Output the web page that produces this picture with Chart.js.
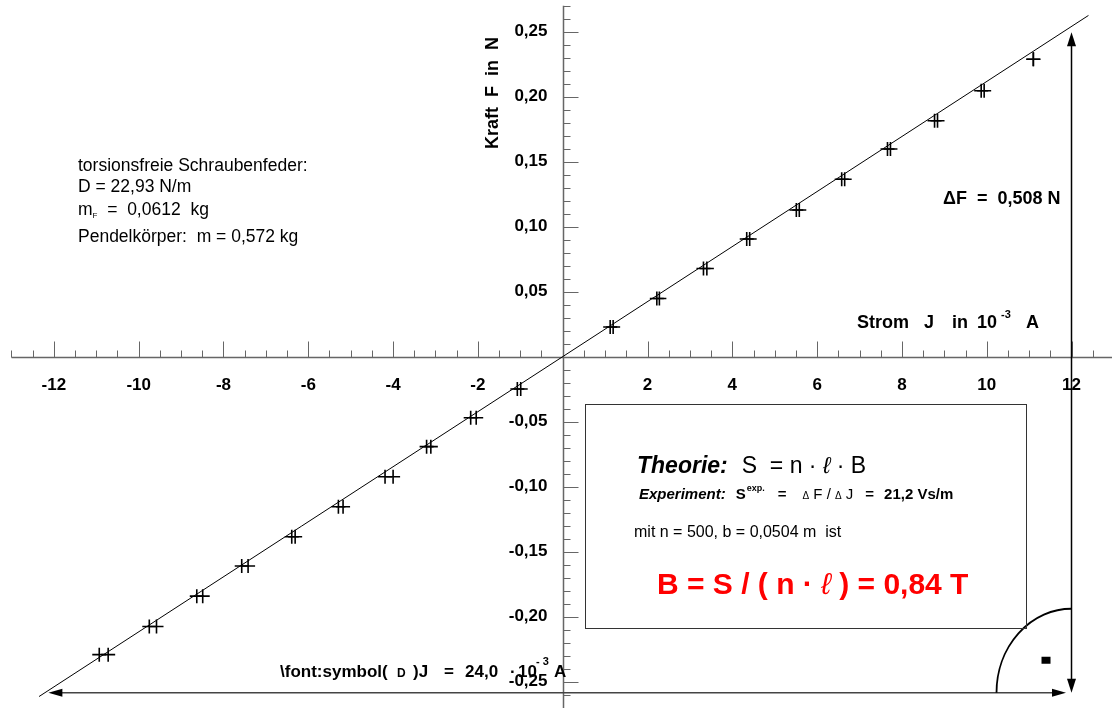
<!DOCTYPE html>
<html>
<head>
<meta charset="utf-8">
<script src="https://cdn.jsdelivr.net/npm/chart.js@4"></script>
<style>
  html, body { margin: 0; padding: 0; background: #fff; }
  canvas { display: block; }
</style>
</head>
<body>
<canvas id="kraftChart" width="1112" height="708"></canvas>
<script>
// Strom J in mA, two readings per step (A / B), Kraft F in N
const jPosA = [1.12, 2.22, 3.32, 4.34, 5.51, 6.58, 7.66, 8.77, 9.87, 11.10];
const jPosB = [1.19, 2.28, 3.40, 4.41, 5.58, 6.65, 7.73, 8.84, 9.94, 11.10];
const fPos  = [0.0228, 0.0448, 0.0679, 0.0905, 0.1128, 0.1365, 0.1598, 0.1815, 0.2046, 0.2288];

const jNegA = [-1.07, -2.17, -3.21, -4.19, -5.29, -6.39, -7.57, -8.63, -9.75, -10.93];
const jNegB = [-0.99, -2.04, -3.11, -4.00, -5.18, -6.31, -7.42, -8.49, -9.58, -10.72];
const fNeg  = [-0.0248, -0.0470, -0.0692, -0.0923, -0.1154, -0.1385, -0.1610, -0.1842, -0.2075, -0.2292];

// fitted straight line through the origin
const fitJ = [-12.35, 12.4];
const fitF = [-0.2614, 0.2625];

// slope triangle
const deltaF = 0.508;      // N
const deltaJ = 24.0;       // mA
const triBaseF = -0.2585;  // bottom edge of the triangle
const triStartJ = -12.13;  // left end of the Delta J arrow

// axis ticks
const xTicks = [-12, -10, -8, -6, -4, -2, 2, 4, 6, 8, 10, 12];
const xTickLabels = ['-12', '-10', '-8', '-6', '-4', '-2', '2', '4', '6', '8', '10', '12'];
const yTicks = [0.25, 0.20, 0.15, 0.10, 0.05, -0.05, -0.10, -0.15, -0.20, -0.25];
const yTickLabels = ['0,25', '0,20', '0,15', '0,10', '0,05', '-0,05', '-0,10', '-0,15', '-0,20', '-0,25'];

const FONT = '"Liberation Sans", Arial, sans-serif';

function pts(xs, ys) {
  return xs.map((x, i) => ({ x: x, y: ys[i] }));
}

function crossSet(data) {
  return {
    data: data,
    pointStyle: 'cross',
    pointRadius: 7,
    pointBorderWidth: 1.6,
    borderColor: '#000',
    showLine: false
  };
}

// draws a row of text pieces left to right: [text, font, dx, dy]
function textRun(ctx, x, y, pieces) {
  ctx.textAlign = 'left';
  ctx.textBaseline = 'alphabetic';
  pieces.forEach(p => {
    ctx.font = p[1];
    x += p[2] || 0;
    ctx.fillText(p[0], x, y + (p[3] || 0));
    x += ctx.measureText(p[0]).width;
  });
}

// same, but every piece has its own x: [text, font, x, dy]
function textAt(ctx, y, pieces) {
  ctx.textAlign = 'left';
  ctx.textBaseline = 'alphabetic';
  pieces.forEach(p => {
    ctx.font = p[1];
    ctx.fillText(p[0], p[2], y + (p[3] || 0));
  });
}

function arrowHead(ctx, tx, ty, dx, dy, len, half) {
  const nx = -dy, ny = dx;
  ctx.beginPath();
  ctx.moveTo(tx, ty);
  ctx.lineTo(tx - dx * len + nx * half, ty - dy * len + ny * half);
  ctx.lineTo(tx - dx * len - nx * half, ty - dy * len - ny * half);
  ctx.closePath();
  ctx.fill();
}

const axesPlugin = {
  id: 'axes',
  beforeDatasetsDraw(chart) {
    const ctx = chart.ctx;
    const xs = chart.scales.x, ys = chart.scales.y;
    const ox = Math.round(xs.getPixelForValue(0)) + 0.5;
    const oy = Math.round(ys.getPixelForValue(0)) + 0.5;
    ctx.save();
    ctx.strokeStyle = '#666';
    ctx.lineWidth = 1.5;
    ctx.beginPath();
    ctx.moveTo(xs.getPixelForValue(-13), oy);
    ctx.lineTo(chart.width, oy);
    ctx.moveTo(ox, ys.getPixelForValue(0.27));
    ctx.lineTo(ox, chart.height);
    ctx.stroke();

    ctx.lineWidth = 1;
    ctx.beginPath();
    for (let k = -26; k <= 26; k++) {
      const v = k / 2;
      if (v === 0) continue;
      const px = Math.round(xs.getPixelForValue(v)) + 0.5;
      const len = (k % 4 === 0) ? 16 : 7;
      ctx.moveTo(px, oy);
      ctx.lineTo(px, oy - len);
    }
    for (let k = -27; k <= 27; k++) {
      if (k === 0) continue;
      const py = Math.round(ys.getPixelForValue(k / 100)) + 0.5;
      const len = (k % 5 === 0) ? 15 : 7;
      ctx.moveTo(ox, py);
      ctx.lineTo(ox + len, py);
    }
    ctx.stroke();

    ctx.fillStyle = '#000';
    ctx.font = 'bold 17px ' + FONT;
    ctx.textAlign = 'center';
    ctx.textBaseline = 'middle';
    xTicks.forEach((v, i) => ctx.fillText(xTickLabels[i], xs.getPixelForValue(v), oy + 28));
    ctx.textAlign = 'right';
    yTicks.forEach((v, i) => ctx.fillText(yTickLabels[i], ox - 16, ys.getPixelForValue(v)));
    ctx.restore();
  },
  afterDraw(chart) {
    const ctx = chart.ctx;
    const xs = chart.scales.x, ys = chart.scales.y;
    ctx.save();
    ctx.fillStyle = '#000';
    ctx.strokeStyle = '#000';

    const b18 = 'bold 18px ' + FONT;
    const b17 = 'bold 17px ' + FONT;
    const sup = 'bold 11px ' + FONT;

    // axis titles
    ctx.save();
    ctx.translate(493, 93);
    ctx.rotate(-Math.PI / 2);
    ctx.font = b18;
    ctx.textAlign = 'center';
    ctx.textBaseline = 'middle';
    ctx.fillText('Kraft  F  in  N', 0, 0);
    ctx.restore();

    textAt(ctx, 328, [
      ['Strom', b18, 857],
      ['J', b18, 924],
      ['in', b18, 952],
      ['10', b18, 977],
      ['-3', sup, 1001, -10],
      ['A', b18, 1026]
    ]);

    // slope triangle
    const xR = xs.getPixelForValue(triStartJ + deltaJ);
    const xL = xs.getPixelForValue(triStartJ);
    const xV = xs.getPixelForValue(12);
    const yB = ys.getPixelForValue(triBaseF);
    const yT = ys.getPixelForValue(triBaseF + deltaF);

    ctx.lineWidth = 1.5;
    ctx.strokeStyle = '#000';
    ctx.beginPath();
    ctx.moveTo(xV, yT + 4);
    ctx.lineTo(xV, yB - 4);
    ctx.stroke();
    arrowHead(ctx, xV, yT, 0, -1, 14, 4.5);
    arrowHead(ctx, xV, yB, 0, 1, 14, 4.5);

    ctx.strokeStyle = '#444';
    ctx.beginPath();
    ctx.moveTo(xL + 4, yB);
    ctx.lineTo(xR - 4, yB);
    ctx.stroke();
    ctx.fillStyle = '#000';
    arrowHead(ctx, xL, yB, -1, 0, 14, 4);
    arrowHead(ctx, xR, yB, 1, 0, 14, 4);

    // right-angle mark
    ctx.strokeStyle = '#000';
    ctx.lineWidth = 1.8;
    ctx.beginPath();
    ctx.ellipse(xV, yB, 75, 84, 0, Math.PI, Math.PI * 1.5);
    ctx.stroke();
    ctx.fillRect(xV - 30, yB - 36, 9, 7);

    ctx.font = b18;
    ctx.textAlign = 'left';
    ctx.textBaseline = 'middle';
    ctx.fillText('\u0394F  =  0,508 N', 943, 199);

    textAt(ctx, 677, [
      ['\\font:symbol(', b17, 280],
      ['D', 'bold 12px ' + FONT, 397],
      [')J', b17, 413],
      ['=', b17, 444],
      ['24,0', b17, 465],
      ['\u00b7', b17, 510],
      ['10', b17, 518],
      ['- 3', sup, 536, -12],
      ['A', b17, 554]
    ]);

    // spring and pendulum data
    const n17 = '17.5px ' + FONT;
    ctx.font = n17;
    ctx.textBaseline = 'middle';
    ctx.fillText('torsionsfreie Schraubenfeder:', 78, 166);
    ctx.fillText('D = 22,93 N/m', 78, 187);
    textRun(ctx, 78, 215, [
      ['m', n17],
      ['F', '8px ' + FONT, 0, 3],
      ['  =  0,0612  kg', n17]
    ]);
    ctx.textBaseline = 'middle';
    ctx.font = n17;
    ctx.fillText('Pendelk\u00f6rper:  m = 0,572 kg', 78, 237);

    // result box
    ctx.lineWidth = 1;
    ctx.strokeStyle = '#333';
    ctx.strokeRect(585.5, 404.5, 441, 224);

    const n23 = '23px ' + FONT;
    textRun(ctx, 637, 473, [
      ['Theorie:', 'italic bold 23px ' + FONT],
      ['S  = n \u00b7 ', n23, 14],
      ['\u2113', 'italic ' + n23],
      [' \u00b7 B', n23]
    ]);

    const b15 = 'bold 15px ' + FONT, n15 = '15px ' + FONT;
    textRun(ctx, 639, 499, [
      ['Experiment:', 'italic bold 15px ' + FONT],
      ['S', b15, 10],
      ['exp.', 'bold 9px ' + FONT, 1, -8],
      ['=', b15, 13],
      ['\u0394', '10px ' + FONT, 16],
      [' F / ', n15],
      ['\u0394', '10px ' + FONT],
      [' J', n15],
      ['=', b15, 12],
      ['21,2 Vs/m', b15, 10]
    ]);

    ctx.font = '16px ' + FONT;
    ctx.textBaseline = 'middle';
    ctx.fillText('mit n = 500, b = 0,0504 m  ist', 634, 533);

    ctx.fillStyle = '#ff0000';
    const r30 = 'bold 30px ' + FONT;
    textRun(ctx, 657, 594, [
      ['B = S / ( n \u00b7 ', r30],
      ['\u2113', 'italic 30px ' + FONT],
      [' ) = 0,84 T', r30]
    ]);
    ctx.restore();
  }
};

new Chart(document.getElementById('kraftChart'), {
  type: 'scatter',
  data: {
    datasets: [
      {
        data: pts(fitJ, fitF),
        showLine: true,
        borderColor: '#000',
        borderWidth: 1,
        pointRadius: 0
      },
      crossSet(pts(jPosA, fPos)),
      crossSet(pts(jPosB, fPos)),
      crossSet(pts(jNegA, fNeg)),
      crossSet(pts(jNegB, fNeg))
    ]
  },
  options: {
    responsive: false,
    animation: false,
    events: [],
    layout: { padding: 0, autoPadding: false },
    plugins: { legend: { display: false }, tooltip: { enabled: false } },
    scales: {
      x: { type: 'linear', display: false, min: -13.271, max: 12.955 },
      y: { type: 'linear', display: false, min: -0.27023, max: 0.27438 }
    }
  },
  plugins: [axesPlugin]
});
</script>
</body>
</html>
